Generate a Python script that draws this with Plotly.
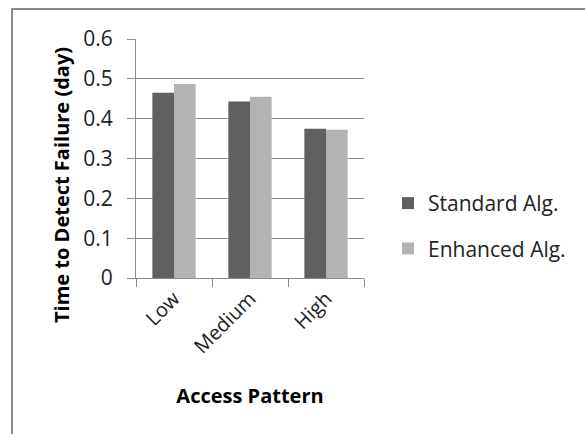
import plotly.graph_objects as go

# Data
patterns = ["Low", "Medium", "High"]
standard_alg = [0.465, 0.443, 0.375]
enhanced_alg = [0.487, 0.455, 0.372]
y_ticks = [0, 0.1, 0.2, 0.3, 0.4, 0.5, 0.6]
y_tick_text = ["0", "0.1", "0.2", "0.3", "0.4", "0.5", "0.6"]

# Canvas and plot-area geometry (px)
W, H = 585, 434
ML, MR, MT, MB = 136, 221, 39, 156
PW, PH = W - ML - MR, H - MT - MB

FONT = "Open Sans, DejaVu Sans, sans-serif"
GRID = "#8c8c8c"
TXT = "#000000"


def px_x(p):
    return (p - ML) / PW


def px_y(p):
    return (H - MB - p) / PH


fig = go.Figure()
fig.add_trace(go.Bar(name="Standard Alg.", x=patterns, y=standard_alg,
                     marker=dict(color="#606060", line=dict(width=0)),
                     legendgroup="a"))
fig.add_trace(go.Bar(name="Enhanced Alg.", x=patterns, y=enhanced_alg,
                     marker=dict(color="#b3b3b3", line=dict(width=0)),
                     legendgroup="b"))

# Outer chart frame (top and left edges visible, rest runs off canvas)
fig.add_shape(type="rect", xref="paper", yref="paper",
              x0=px_x(12), x1=px_x(W + 20), y0=px_y(H + 20), y1=px_y(9),
              line=dict(color="#8a8a8a", width=2), fillcolor="rgba(0,0,0,0)",
              layer="below")

# Vertical axis title
fig.add_annotation(text="<b>Time to Detect Failure (day)</b>",
                   xref="paper", yref="paper", x=px_x(62), y=px_y(185),
                   xanchor="center", yanchor="middle", textangle=-90,
                   showarrow=False, font=dict(family=FONT, size=20, color=TXT))

fig.update_layout(
    width=W, height=H,
    margin=dict(l=ML, r=MR, t=MT, b=MB, autoexpand=False),
    paper_bgcolor="white", plot_bgcolor="white",
    barmode="group", bargap=0.43, bargroupgap=0,
    font=dict(family=FONT, color=TXT, size=19),
    showlegend=True,
    legend=dict(x=px_x(388), y=px_y(183), xanchor="left", yanchor="top",
                font=dict(family=FONT, size=21, color="#222222"),
                traceorder="grouped", tracegroupgap=15,
                bgcolor="rgba(0,0,0,0)", itemclick=False),
    xaxis=dict(
        type="category",
        showgrid=False, showline=True, linecolor=GRID, linewidth=1,
        ticks="outside", ticklen=8, tickcolor=GRID, tickson="boundaries",
        tickangle=-45, tickfont=dict(family=FONT, size=20, color="#222222"),
        title=dict(text="<b>Access Pattern</b>", standoff=31,
                   font=dict(family=FONT, size=20, color=TXT)),
        fixedrange=True,
    ),
    yaxis=dict(
        range=[0, 0.6], tickvals=y_ticks, ticktext=y_tick_text,
        showgrid=True, gridcolor=GRID, gridwidth=1,
        showline=True, linecolor=GRID, linewidth=1,
        ticks="outside", ticklen=8, tickcolor=GRID,
        tickfont=dict(family=FONT, size=21, color="#222222"),
        ticklabelstandoff=10,
        zeroline=False,
        fixedrange=True,
    ),
)

fig.write_html("out.html")
